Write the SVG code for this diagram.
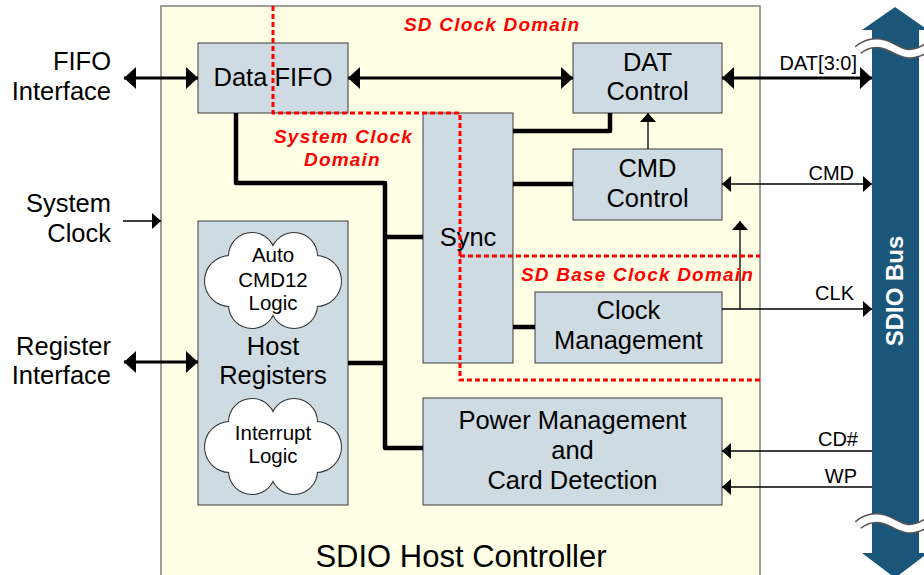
<svg xmlns="http://www.w3.org/2000/svg" xmlns:xlink="http://www.w3.org/1999/xlink" width="924" height="575" viewBox="0 0 924 575">
  <style>
    text { font-family: "Liberation Sans", Arial, sans-serif; fill: #000; }
    .lbl { font-size: 25.5px; }
    .sm { font-size: 20px; }
    .cl { font-size: 20.5px; }
    .dom { font-size: 19px; font-weight: bold; font-style: italic; fill: #ff0000; letter-spacing: 1.2px; }
    .blk { fill: #cfdbe3; stroke: #3a3a3a; stroke-width: 1; }
    .thick { fill: none; stroke: #000; stroke-width: 4.5; stroke-linejoin: round; }
    .bus { fill: none; stroke: #000; stroke-width: 3; }
    .thin { fill: none; stroke: #000; stroke-width: 1.3; }
    .dash { fill: none; stroke: #ff0000; stroke-width: 3; stroke-dasharray: 5 3; }
  </style>
  <defs>
    <marker id="ahT" viewBox="0 0 12 22" refX="12" refY="11" markerWidth="12" markerHeight="22" markerUnits="userSpaceOnUse" orient="auto-start-reverse">
      <path d="M0,0 L12,11 L0,22 Z" fill="#000"/>
    </marker>
    <marker id="ahS" viewBox="0 0 9 16" refX="9" refY="8" markerWidth="9" markerHeight="16" markerUnits="userSpaceOnUse" orient="auto-start-reverse">
      <path d="M0,0 L9,8 L0,16 Z" fill="#000"/>
    </marker>
    <!-- cloud: outlined circles first, then the same circles filled to hide inner arcs -->
    <g id="cloudShapes">
      <circle cx="252" cy="256" r="23"/>
      <circle cx="294" cy="256" r="23"/>
      <circle cx="230" cy="281" r="25"/>
      <circle cx="316" cy="281" r="25"/>
      <circle cx="252" cy="305" r="23"/>
      <circle cx="294" cy="305" r="23"/>
      <ellipse cx="273" cy="281" rx="45" ry="30"/>
    </g>
    <g id="cloud">
      <use xlink:href="#cloudShapes" fill="#fff" stroke="#333" stroke-width="2"/>
      <use xlink:href="#cloudShapes" fill="#fff" stroke="none"/>
    </g>
  </defs>

  <!-- controller outline -->
  <g id="controller">
    <rect x="161" y="6" width="599" height="600" fill="#ffffe6" stroke="#808080" stroke-width="1.5"/>
    <text class="lbl" x="461" y="567" text-anchor="middle" style="font-size:31px">SDIO Host Controller</text>
  </g>

  <!-- SDIO bus -->
  <g id="sdio-bus">
    <path d="M895,7 L928,30 L919,30 L919,553 L928,553 L895,578 L862,553 L872,553 L872,30 L862,30 Z" fill="#1a567a"/>
    <path d="M858,50 C870,40 882,42 893,48 S912,58 930,46" fill="none" stroke="#555" stroke-width="10"/>
    <path d="M858,50 C870,40 882,42 893,48 S912,58 930,46" fill="none" stroke="#fff" stroke-width="7"/>
    <path d="M858,525 C870,515 882,517 893,523 S912,533 930,521" fill="none" stroke="#555" stroke-width="10"/>
    <path d="M858,525 C870,515 882,517 893,523 S912,533 930,521" fill="none" stroke="#fff" stroke-width="7"/>
    <text transform="translate(903,291) rotate(-90)" text-anchor="middle" style="font-size:24px;font-weight:bold;fill:#fff">SDIO Bus</text>
  </g>

  <!-- external interface labels -->
  <g id="ext-labels" class="lbl" text-anchor="end">
    <text x="111" y="70">FIFO</text>
    <text x="111" y="100">Interface</text>
    <text x="111" y="212">System</text>
    <text x="111" y="242">Clock</text>
    <text x="111" y="355">Register</text>
    <text x="111" y="384">Interface</text>
  </g>

  <!-- functional blocks -->
  <g id="data-fifo">
    <rect class="blk" x="198" y="43" width="150" height="70"/>
    <text class="lbl" x="273" y="86" text-anchor="middle">Data FIFO</text>
  </g>
  <g id="dat-control">
    <rect class="blk" x="573" y="43" width="149" height="70"/>
    <text class="lbl" x="647.5" y="71" text-anchor="middle">DAT</text>
    <text class="lbl" x="647.5" y="100" text-anchor="middle">Control</text>
  </g>
  <g id="cmd-control">
    <rect class="blk" x="573" y="149" width="149" height="71"/>
    <text class="lbl" x="647.5" y="177" text-anchor="middle">CMD</text>
    <text class="lbl" x="647.5" y="207" text-anchor="middle">Control</text>
  </g>
  <g id="sync">
    <rect class="blk" x="423" y="113" width="90" height="250"/>
    <text class="lbl" x="468" y="246" text-anchor="middle">Sync</text>
  </g>
  <g id="clock-management">
    <rect class="blk" x="535" y="292" width="187" height="71"/>
    <text class="lbl" x="628.5" y="319" text-anchor="middle">Clock</text>
    <text class="lbl" x="628.5" y="349" text-anchor="middle">Management</text>
  </g>
  <g id="host-registers">
    <rect class="blk" x="198" y="221" width="150" height="284"/>
    <text class="lbl" x="273" y="355" text-anchor="middle">Host</text>
    <text class="lbl" x="273" y="384" text-anchor="middle">Registers</text>
  </g>
  <g id="auto-cmd12">
    <use xlink:href="#cloud"/>
    <text class="cl" x="273" y="262" text-anchor="middle">Auto</text>
    <text class="cl" x="273" y="287" text-anchor="middle">CMD12</text>
    <text class="cl" x="273" y="310" text-anchor="middle">Logic</text>
  </g>
  <g id="interrupt-logic">
    <use xlink:href="#cloud" transform="translate(0,166)"/>
    <text class="cl" x="273" y="440" text-anchor="middle">Interrupt</text>
    <text class="cl" x="273" y="463" text-anchor="middle">Logic</text>
  </g>
  <g id="power-management">
    <rect class="blk" x="423" y="398" width="299" height="107"/>
    <text class="lbl" x="572.5" y="429" text-anchor="middle">Power Management</text>
    <text class="lbl" x="572.5" y="459" text-anchor="middle">and</text>
    <text class="lbl" x="572.5" y="489" text-anchor="middle">Card Detection</text>
  </g>

  <!-- connectors -->
  <g id="connectors">
    <path class="thick" d="M236,113 V183 H385 V448 H423"/>
    <path class="thick" d="M385,237 H423"/>
    <path class="thick" d="M348,363 H385"/>
    <path class="thick" d="M513,131 H610 V113"/>
    <path class="thick" d="M513,184 H573"/>
    <path class="thick" d="M513,327 H535"/>

    <path class="bus" d="M124,78 H198" marker-start="url(#ahT)" marker-end="url(#ahT)"/>
    <path class="bus" d="M124,362 H198" marker-start="url(#ahT)" marker-end="url(#ahT)"/>
    <path class="bus" d="M348,78 H573" marker-start="url(#ahT)" marker-end="url(#ahT)"/>
    <path class="bus" d="M722,78 H872" marker-start="url(#ahT)" marker-end="url(#ahT)"/>

    <path class="thin" d="M123,221 H161" marker-end="url(#ahS)"/>
    <path class="thin" d="M722,184 H872" marker-start="url(#ahS)" marker-end="url(#ahS)"/>
    <path class="thin" d="M648,149 V113" marker-end="url(#ahS)"/>
    <path class="thin" d="M722,309 H872" marker-end="url(#ahS)"/>
    <path class="thin" d="M740,309 V221" marker-end="url(#ahS)"/>
    <path class="thin" d="M872,451 H722" marker-end="url(#ahS)"/>
    <path class="thin" d="M872,487 H722" marker-end="url(#ahS)"/>

    <g class="sm" text-anchor="end">
      <text x="857" y="70">DAT[3:0]</text>
      <text x="854" y="180">CMD</text>
      <text x="854" y="300">CLK</text>
      <text x="858" y="446">CD#</text>
      <text x="857" y="483">WP</text>
    </g>
  </g>

  <!-- clock domain boundaries -->
  <g id="clock-domains">
    <path class="dash" d="M273,6 V113 H460 V380 H760"/>
    <path class="dash" d="M460,256 H760"/>
    <text class="dom" x="404" y="31">SD Clock Domain</text>
    <text class="dom" x="274" y="143">System Clock</text>
    <text class="dom" x="304" y="166">Domain</text>
    <text class="dom" x="521" y="281">SD Base Clock Domain</text>
  </g>
</svg>
